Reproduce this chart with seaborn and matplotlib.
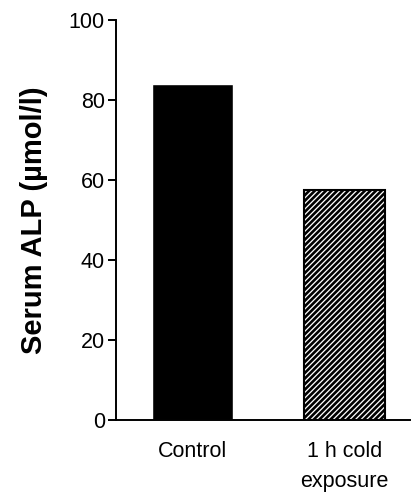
import matplotlib
matplotlib.use("Agg")
import matplotlib.pyplot as plt
import seaborn as sns
import pandas as pd

# values
groups = ["Control", "1 h cold\nexposure"]
alp_values = [84.0, 57.5]
yticks = [0, 20, 40, 60, 80, 100]

sns.set_style("ticks")
plt.rcParams["font.family"] = ["Liberation Sans", "DejaVu Sans"]
plt.rcParams["hatch.linewidth"] = 1.9
for key in ["text.color", "axes.labelcolor", "xtick.color", "ytick.color", "axes.edgecolor"]:
    plt.rcParams[key] = "black"

df = pd.DataFrame({"group": groups, "alp": alp_values})

fig = plt.figure(figsize=(4.13, 4.96), dpi=100)
ax = fig.add_axes([0.281, 0.153, 0.712, 0.807])

sns.barplot(data=df, x="group", y="alp", color="black", width=0.53,
            saturation=1, ax=ax)

# second bar: white with dense diagonal hatch
bar = ax.patches[1]
bar.set_facecolor("white")
bar.set_edgecolor("black")
bar.set_hatch("//////")
bar.set_linewidth(1.5)

ax.set_ylim(0, 100)
ax.set_xlim(-0.5, 1.43)
ax.set_yticks(yticks)
ax.set_xlabel("")
ax.set_ylabel("Serum ALP (\u00b5mol/l)", fontsize=21, fontweight="bold", labelpad=15)

sns.despine(ax=ax)
for side in ["left", "bottom"]:
    ax.spines[side].set_linewidth(1.4)
ax.tick_params(axis="y", direction="out", length=6, width=1.4, pad=2, labelsize=15.5)
ax.tick_params(axis="x", length=0, pad=15, labelsize=15.5)
for lbl in ax.get_xticklabels():
    lbl.set_linespacing(1.55)

fig.savefig("out.png", dpi=100)
